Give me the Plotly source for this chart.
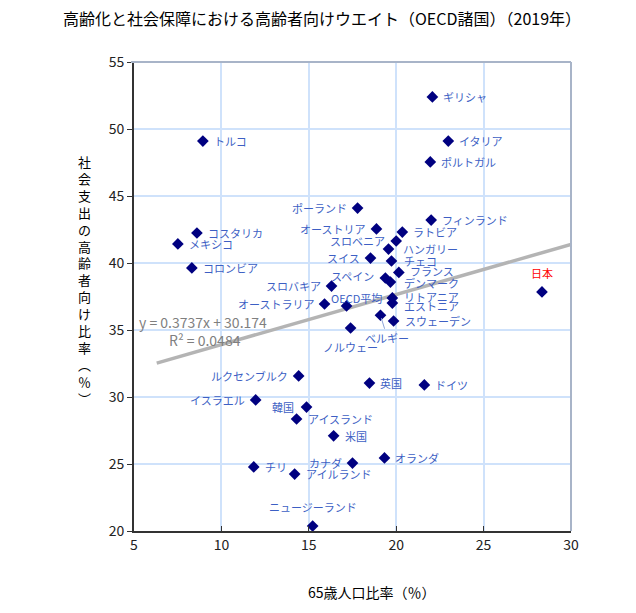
import plotly.graph_objects as go

# ---- data ----
countries = ["ギリシャ", "イタリア", "ポルトガル", "トルコ", "コスタリカ", "メキシコ", "コロンビア",
             "ポーランド", "フィンランド", "オーストリア", "ラトビア", "スロベニア", "ハンガリー",
             "スイス", "チェコ", "フランス", "スペイン", "デンマーク", "スロバキア", "OECD平均",
             "オーストラリア", "リトアニア", "エストニア", "スウェーデン", "ベルギー", "ノルウェー",
             "日本", "ルクセンブルク", "英国", "ドイツ", "イスラエル", "韓国", "アイスランド",
             "米国", "オランダ", "カナダ", "チリ", "アイルランド", "ニュージーランド"]
pop65 = [22.07, 22.98, 21.95, 8.94, 8.60, 7.51, 8.31,
         17.79, 22.00, 18.87, 20.35, 20.00, 19.56,
         18.53, 19.73, 20.15, 19.38, 19.67, 16.30, 17.16,
         15.90, 19.78, 19.78, 19.85, 19.10, 17.39,
         28.34, 14.42, 18.47, 21.61, 11.96, 14.87, 14.30,
         16.42, 19.33, 17.50, 11.85, 14.19, 15.22]
elder_share = [52.39, 49.10, 47.54, 49.10, 42.24, 41.42, 39.63,
               44.10, 43.20, 42.54, 42.31, 41.64, 41.04,
               40.37, 40.15, 39.30, 38.88, 38.58, 38.28, 36.80,
               36.94, 37.39, 37.01, 35.67, 36.10, 35.15,
               37.84, 31.57, 31.04, 30.90, 29.78, 29.25, 28.36,
               27.10, 25.45, 25.07, 24.78, 24.25, 20.37]
trend_slope = 0.3737
trend_intercept = 30.174
trend_x_range = [6.3, 30.0]
x_ticks = [5, 10, 15, 20, 25, 30]
y_ticks = [20, 25, 30, 35, 40, 45, 50, 55]

title_text = "高齢化と社会保障における高齢者向けウエイト（OECD諸国）（2019年）"
x_title = "65歳人口比率（％）"
y_title = "社会支出の高齢者向け比率︵％︶"
eq_text = "y = 0.3737x + 30.174"
r2_text = "R² = 0.0484"

# ---- label placement styles (pixels) ----
label_style = {
    "ポーランド": ("l", -9, 0), "オーストリア": ("l", -9, 0), "スロベニア": ("l", -9, 0),
    "スイス": ("l", -9, 0), "スペイン": ("l", -9, 2), "スロバキア": ("l", -9, 0),
    "オーストラリア": ("l", -9, 0), "ルクセンブルク": ("l", -9, 0), "イスラエル": ("l", -9, 0),
    "韓国": ("l", -11, 0), "カナダ": ("l", -9, 0),
    "OECD平均": ("c", 10, 8), "ノルウェー": ("c", 0, -19), "日本": ("c", 0, 19),
    "ニュージーランド": ("c", 0, 19),
    "ハンガリー": ("r", 12, 0), "チェコ": ("r", 11, 0), "フランス": ("r", 9, 1),
    "デンマーク": ("r", 12, -1), "リトアニア": ("r", 10, 1), "エストニア": ("r", 10, -3),
}

FONT = "Noto Sans CJK JP"
LABEL_COLOR = "#3d5fc4"

# plot area in pixels
L, R, T, B = 134, 571, 62, 531
PW, PH = R - L, B - T

fig = go.Figure()

tx = trend_x_range
ty = [trend_slope * v + trend_intercept for v in tx]
fig.add_trace(go.Scatter(x=tx, y=ty, mode="lines",
                         line=dict(color="#b4b4b4", width=3.5),
                         hoverinfo="skip", showlegend=False))

fig.add_trace(go.Scatter(x=pop65, y=elder_share, mode="markers",
                         marker=dict(symbol="diamond", size=9, color="#000080"),
                         text=countries, showlegend=False))

annotations = []
for name, xv, yv in zip(countries, pop65, elder_share):
    color = "#ff0000" if name == "日本" else LABEL_COLOR
    mode, dx, dy = label_style.get(name, ("r", 9, 0))
    if name == "ベルギー":
        annotations.append(dict(x=xv, y=yv, xref="x", yref="y", text=name,
                                showarrow=True, arrowhead=0, arrowwidth=1,
                                arrowcolor="#8ea4d8", ax=7, ay=23, standoff=3,
                                font=dict(family=FONT, size=11, color=color)))
        continue
    xa = {"r": "left", "l": "right"}.get(mode, "center")
    annotations.append(dict(x=xv, y=yv, xref="x", yref="y", text=name, showarrow=False,
                            xanchor=xa, yanchor="middle", xshift=dx, yshift=dy,
                            font=dict(family=FONT, size=11, color=color)))

# equation texts
annotations.append(dict(x=(137 - L) / PW, y=(B - 322) / PH, xref="paper", yref="paper",
                        text=eq_text, showarrow=False, xanchor="left", yanchor="middle",
                        font=dict(family=FONT, size=14, color="#7f7f7f")))
annotations.append(dict(x=(167 - L) / PW, y=(B - 340) / PH, xref="paper", yref="paper",
                        text=r2_text, showarrow=False, xanchor="left", yanchor="middle",
                        font=dict(family=FONT, size=14, color="#7f7f7f")))
# title
annotations.append(dict(x=(322 - L) / PW, y=(B - 18) / PH, xref="paper", yref="paper",
                        text=title_text, showarrow=False, xanchor="center", yanchor="middle",
                        font=dict(family=FONT, size=16, color="#000000")))
# axis titles
annotations.append(dict(x=(372 - L) / PW, y=(B - 592) / PH, xref="paper", yref="paper",
                        text=x_title, showarrow=False, xanchor="center", yanchor="middle",
                        font=dict(family=FONT, size=14, color="#000000")))
annotations.append(dict(x=(84 - L) / PW, y=(B - 280) / PH, xref="paper", yref="paper",
                        text="<br>".join(list(y_title)), showarrow=False,
                        xanchor="center", yanchor="middle",
                        font=dict(family=FONT, size=13, color="#000000")))

fig.update_layout(
    width=636, height=613, autosize=False,
    margin=dict(l=L, r=636 - R, t=T, b=613 - B),
    paper_bgcolor="white", plot_bgcolor="white",
    showlegend=False,
    annotations=annotations,
    shapes=[
        dict(type="line", xref="paper", yref="paper", x0=-0.007, x1=1, y0=1, y1=1,
             line=dict(color="#a8b4c8", width=2)),
        dict(type="line", xref="paper", yref="paper", x0=1, x1=1, y0=0, y1=1,
             line=dict(color="#a8b4c8", width=2)),
    ],
    font=dict(family=FONT),
)
fig.update_xaxes(range=[5, 30], tickvals=x_ticks, showgrid=True, gridcolor="#cfe2fb",
                 gridwidth=1.5, zeroline=False, showline=True, linecolor="#333333",
                 linewidth=2, ticks="inside", ticklen=5, tickcolor="#333333",
                 tickfont=dict(family=FONT, size=14, color="#222222"))
fig.update_yaxes(range=[20, 55], tickvals=y_ticks, showgrid=True, gridcolor="#cfe2fb",
                 gridwidth=1.5, zeroline=False, showline=True, linecolor="#333333",
                 linewidth=2, ticks="outside", ticklen=5, tickcolor="#333333",
                 tickfont=dict(family=FONT, size=14, color="#222222"))

fig.write_html("out.html")
